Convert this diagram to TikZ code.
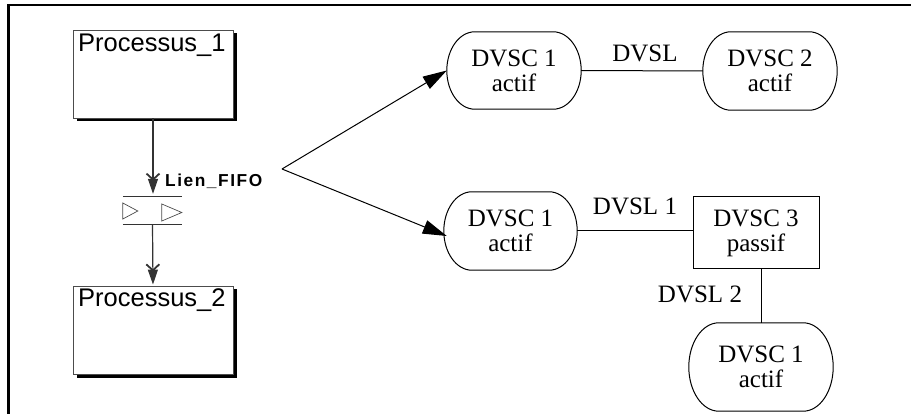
\documentclass[tikz,border=0pt]{standalone}
\usepackage{fontspec}
\setmainfont{Liberation Serif}
\newfontfamily\arialf{Liberation Sans}
\newfontfamily\fifof[LetterSpace=9]{Liberation Sans}
\usetikzlibrary{arrows.meta,shadows,calc}
\definecolor{lgray}{gray}{0.3}
\tikzset{
 proc/.style={draw=lgray, line width=0.9pt, fill=white, minimum width=160pt, minimum height=88pt, inner sep=0pt,
   drop shadow={shadow xshift=3.5pt, shadow yshift=-3.5pt, fill=black, opacity=1}},
 proclabel/.style={font=\arialf\fontsize{25.5}{26}\selectfont, anchor=base west, inner sep=0pt},
 dvsc/.style={inner sep=0pt, align=center, font=\fontsize{25}{25}\selectfont},
 dvscbox/.style={dvsc, draw, line width=1pt},
 dvsl/.style={font=\fontsize{25}{25}\selectfont, anchor=base, inner sep=0pt},
 link/.style={line width=1pt},
 outline/.style={line width=1pt},
 bigarrow/.style={line width=1pt, -{Triangle[length=24pt,width=14pt]}},
 fifoarrow/.style={draw=black!80, line width=1.2pt,
   -{Straight Barb[length=6pt,width=13pt,line width=1.8pt,sep=-2pt]Triangle[length=15pt,width=10pt]}},
 fifoline/.style={draw=black!80, line width=1pt},
 fifotri/.style={draw=lgray, line width=0.7pt},
 fifolabel/.style={font=\fifof\bfseries\fontsize{17.3}{18}\selectfont, anchor=base west, inner sep=0pt},
 frameline/.style={line width=2.3pt},
}
% stadium outline around a node: name, end x-radius, half height
\newcommand\stadiumpath[3]{%
 \pgfmathsetmacro\stR{#2}%
 \pgfmathsetmacro\stK{0.5523*#2}%
 \pgfmathsetmacro\stH{0.5523*#3}%
 \draw[outline]
   ($(#1.north west)+(\stR,0)$) -- ($(#1.north east)+(-\stR,0)$)
   .. controls ($(#1.north east)+(-\stR+\stK,0)$) and ($(#1.east)+(0,-\stH)$) .. (#1.east)
   .. controls ($(#1.east)+(0,\stH)$) and ($(#1.south east)+(-\stR+\stK,0)$) .. ($(#1.south east)+(-\stR,0)$)
   -- ($(#1.south west)+(\stR,0)$)
   .. controls ($(#1.south west)+(\stR-\stK,0)$) and ($(#1.west)+(0,\stH)$) .. (#1.west)
   .. controls ($(#1.west)+(0,-\stH)$) and ($(#1.north west)+(\stR-\stK,0)$) .. ($(#1.north west)+(\stR,0)$)
   -- cycle;}
\begin{document}
\begin{tikzpicture}[x=1pt,y=-1pt]
\useasboundingbox (0,0) rectangle (911,414);
% frame
\draw[frameline] (8.5,414) -- (8.5,5) -- (911,5);

% processes
\node[proc] (p1) at (153,74) {};
\node[proclabel] (p1label) at (78,52) {Processus\_1};
\node[proc] (p2) at (153,330) {};
\node[proclabel] (p2label) at (78,307) {Processus\_2};

% fifo
\node[minimum width=59pt, minimum height=27pt, inner sep=0pt] (fifo) at (152.5,210.5) {};
\draw[fifoline] (fifo.north west) -- (fifo.north east);
\draw[fifoline] (fifo.south west) -- (fifo.south east);
\draw[fifotri] ([shift={(0,-7.5)}]fifo.west) -- ([shift={(0,8.5)}]fifo.west) -- ([shift={(15,0.5)}]fifo.west) -- cycle;
\draw[fifotri] ([shift={(39,-6.5)}]fifo.west) -- ([shift={(39,10.5)}]fifo.west) -- ([shift={(59,2)}]fifo.west) -- cycle;
\draw[fifoarrow, shorten >=3pt] (p1.south) -- (p1.south |- fifo.north);
\draw[fifoarrow, shorten >=1pt] (fifo.south) -- (p2.north);
\node[fifolabel] (fifolbl) at (165,187) {Lien\_FIFO};

% DVSC nodes
\node[dvsc, minimum width=134pt, minimum height=77pt] (d1top) at (514,70.5) {DVSC 1\\actif};
\stadiumpath{d1top}{28}{38.5}
\node[dvsc, minimum width=134pt, minimum height=78pt] (d2top) at (770,71) {DVSC 2\\actif};
\stadiumpath{d2top}{28}{39}
\node[dvsc, minimum width=133pt, minimum height=78pt] (d1mid) at (510.5,231) {DVSC 1\\actif};
\stadiumpath{d1mid}{28}{39}
\node[dvscbox, minimum width=126pt, minimum height=72pt] (d3) at (756,233) {DVSC 3\\passif};
\node[dvsc, minimum width=144pt, minimum height=88pt] (d1bot) at (761,367) {DVSC 1\\actif};
\stadiumpath{d1bot}{30}{44}

% links
\draw[link] (d1top.east) -- (d2top.west);
\node[dvsl] (l0) at (645,62) {DVSL};
\draw[link] (d1mid.east) -- (d1mid.east -| d3.west);
\node[dvsl] (l1) at (635,215) {DVSL 1};
\draw[link] (d1bot.north |- d3.south) -- (d1bot.north);
\node[dvsl] (l2) at (700,302) {DVSL 2};

% arrows from fifo label
\coordinate (split) at (282,169);
\draw[bigarrow] (split) -- (d1top.west);
\draw[bigarrow] (split) -- ([shift={(3,5)}]d1mid.west);
\end{tikzpicture}
\end{document}
